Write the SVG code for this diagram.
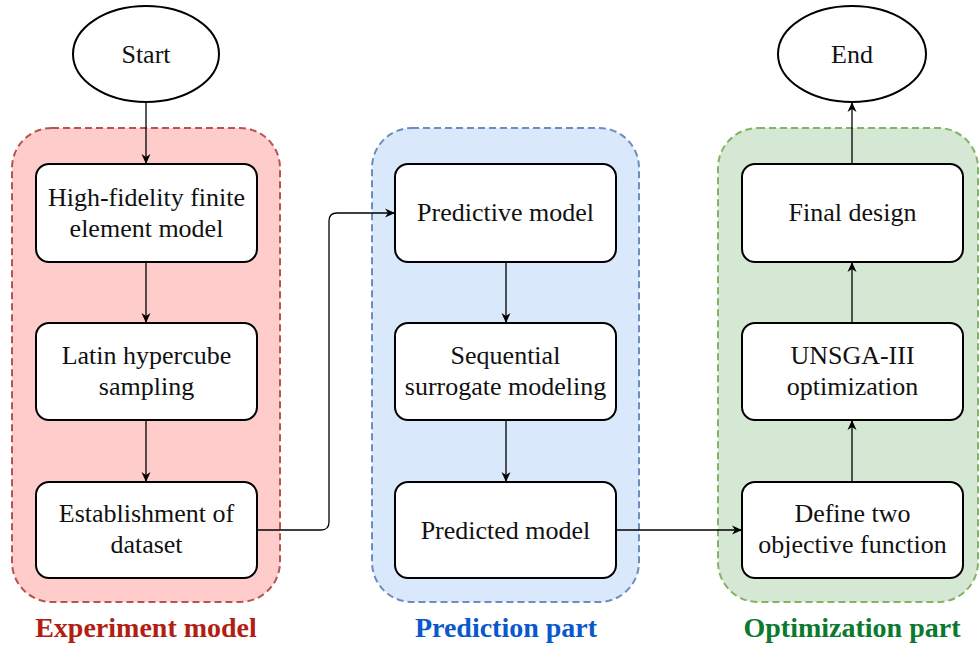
<svg xmlns="http://www.w3.org/2000/svg" width="979" height="649" viewBox="0 0 979 649">
<style>
.grp{stroke-width:2;stroke-dasharray:7 4}
.box{fill:#fff;stroke:#000;stroke-width:2}
text{font-family:'Liberation Serif','Times New Roman',Tinos,'Nimbus Roman','Nimbus Roman No9 L','Noto Serif','DejaVu Serif',FreeSerif,serif}
.t{font-size:26px;fill:#111;text-anchor:middle}
.lbl{font-size:28px;font-weight:bold;text-anchor:middle}
.c{fill:none;stroke:#000;stroke-width:1.3}
</style>
<defs>
<marker id="arr" viewBox="0 0 10 10" refX="10" refY="5" markerWidth="10" markerHeight="10" markerUnits="userSpaceOnUse" orient="auto">
<path d="M0,0.5 L10,5 L0,9.5 L3,5 Z" fill="#000"/>
</marker>
</defs>
<rect width="979" height="649" fill="#fff"/>
<g id="experiment-group">
<rect x="12" y="128" width="268" height="474" rx="40" fill="#ffcccc" stroke="#b85450" class="grp"/>
<text class="lbl" x="146" y="637" fill="#b21e12">Experiment model</text>
</g>
<g id="prediction-group">
<rect x="372" y="128" width="267" height="474" rx="40" fill="#dae8fc" stroke="#6c8ebf" class="grp"/>
<text class="lbl" x="506" y="637" fill="#0a58cc">Prediction part</text>
</g>
<g id="optimization-group">
<rect x="718" y="128" width="260" height="474" rx="40" fill="#d5e8d4" stroke="#82b366" class="grp"/>
<text class="lbl" x="852" y="637" fill="#0b7a2e">Optimization part</text>
</g>
<g id="connectors">
<path class="c" d="M146,102 V164" marker-end="url(#arr)"/>
<path class="c" d="M146,262 V323" marker-end="url(#arr)"/>
<path class="c" d="M146,420 V482" marker-end="url(#arr)"/>
<path class="c" d="M257,530 H321 Q329,530 329,522 V221 Q329,213 337,213 H395" marker-end="url(#arr)"/>
<path class="c" d="M506,262 V323" marker-end="url(#arr)"/>
<path class="c" d="M506,420 V482" marker-end="url(#arr)"/>
<path class="c" d="M616,530 H742" marker-end="url(#arr)"/>
<path class="c" d="M852,482 V420" marker-end="url(#arr)"/>
<path class="c" d="M852,323 V262" marker-end="url(#arr)"/>
<path class="c" d="M852,164 V102" marker-end="url(#arr)"/>
</g>
<g id="start">
<ellipse cx="146" cy="54" rx="73" ry="48" fill="#fff" stroke="#000" stroke-width="2"/>
<text class="t" x="146" y="63">Start</text>
</g>
<g id="end">
<ellipse cx="852" cy="54" rx="74" ry="48" fill="#fff" stroke="#000" stroke-width="2"/>
<text class="t" x="852" y="63">End</text>
</g>
<g id="hifi">
<rect class="box" x="36" y="164" width="221" height="98" rx="13"/>
<text class="t" x="146.5" y="206">High-fidelity finite</text>
<text class="t" x="146.5" y="237">element model</text>
</g>
<g id="lhs">
<rect class="box" x="36" y="323" width="221" height="97" rx="13"/>
<text class="t" x="146.5" y="364">Latin hypercube</text>
<text class="t" x="146.5" y="395">sampling</text>
</g>
<g id="dataset">
<rect class="box" x="36" y="482" width="221" height="96" rx="13"/>
<text class="t" x="146.5" y="522">Establishment of</text>
<text class="t" x="146.5" y="553">dataset</text>
</g>
<g id="predictive">
<rect class="box" x="395" y="164" width="221" height="98" rx="13"/>
<text class="t" x="505.5" y="221">Predictive model</text>
</g>
<g id="sequential">
<rect class="box" x="395" y="323" width="221" height="97" rx="13"/>
<text class="t" x="505.5" y="364">Sequential</text>
<text class="t" x="505.5" y="395">surrogate modeling</text>
</g>
<g id="predicted">
<rect class="box" x="395" y="482" width="221" height="96" rx="13"/>
<text class="t" x="505.5" y="539">Predicted model</text>
</g>
<g id="define">
<rect class="box" x="742" y="482" width="221" height="96" rx="13"/>
<text class="t" x="852.5" y="522">Define two</text>
<text class="t" x="852.5" y="553">objective function</text>
</g>
<g id="unsga">
<rect class="box" x="742" y="323" width="221" height="97" rx="13"/>
<text class="t" x="852.5" y="364">UNSGA-III</text>
<text class="t" x="852.5" y="395">optimization</text>
</g>
<g id="final">
<rect class="box" x="742" y="164" width="221" height="98" rx="13"/>
<text class="t" x="852.5" y="221">Final design</text>
</g>
</svg>
